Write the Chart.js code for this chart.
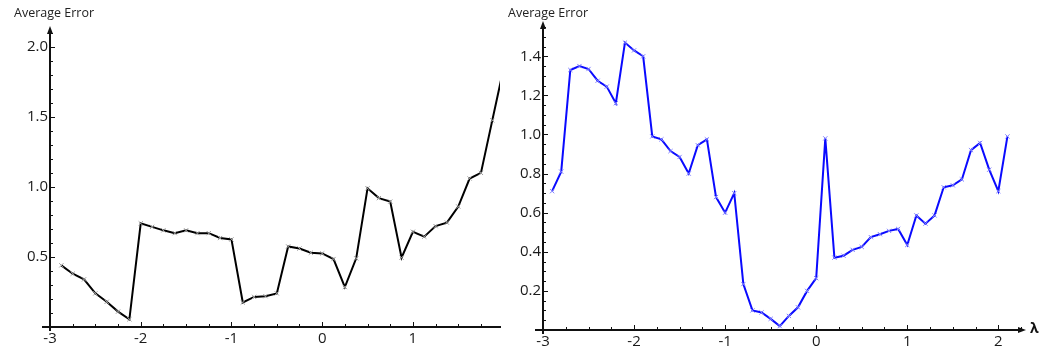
<!DOCTYPE html>
<html>
<head>
<meta charset="utf-8">
<script src="https://cdn.jsdelivr.net/npm/chart.js@4.4.1/dist/chart.umd.min.js"></script>
<style>
  html, body { margin: 0; padding: 0; background: #fff; }
  #wrap { position: relative; width: 1041px; height: 349px; }
  canvas { position: absolute; top: 0; }
  #chartLeft { left: 0; }
  #chartRight { left: 505px; }
</style>
</head>
<body>
<div id="wrap">
  <canvas id="chartLeft" width="505" height="349"></canvas>
  <canvas id="chartRight" width="536" height="349"></canvas>
</div>
<script>
const yTitle = "Average Error";
const xTitle = "λ";

// left panel, black curve
const lambdaLeft = [-2.875, -2.75, -2.625, -2.5, -2.375, -2.25, -2.125, -2.0,
  -1.875, -1.75, -1.625, -1.5, -1.375, -1.25, -1.125, -1.0,
  -0.875, -0.75, -0.625, -0.5, -0.375, -0.25, -0.125, 0,
  0.125, 0.25, 0.375, 0.5, 0.625, 0.75, 0.875, 1.0,
  1.125, 1.25, 1.375, 1.5, 1.625, 1.75, 1.875, 2.0];
const errorLeft = [0.44, 0.38, 0.34, 0.24, 0.18, 0.11, 0.055, 0.74,
  0.715, 0.69, 0.67, 0.69, 0.67, 0.67, 0.635, 0.625,
  0.175, 0.215, 0.22, 0.24, 0.575, 0.56, 0.53, 0.525,
  0.485, 0.285, 0.49, 0.99, 0.92, 0.895, 0.495, 0.68,
  0.645, 0.72, 0.745, 0.86, 1.06, 1.10, 1.475, 1.85];
const xTicksLeft = [-3, -2, -1, 0, 1];
const yTicksLeft = [0.5, 1.0, 1.5, 2.0];

// right panel, blue curve
const lambdaRight = [-2.9, -2.8, -2.7, -2.6, -2.5, -2.4, -2.3, -2.2, -2.1, -2.0,
  -1.9, -1.8, -1.7, -1.6, -1.5, -1.4, -1.3, -1.2, -1.1, -1.0,
  -0.9, -0.8, -0.7, -0.6, -0.5, -0.4, -0.3, -0.2, -0.1, 0.0,
  0.1, 0.2, 0.3, 0.4, 0.5, 0.6, 0.7, 0.8, 0.9, 1.0,
  1.1, 1.2, 1.3, 1.4, 1.5, 1.6, 1.7, 1.8, 1.9, 2.0, 2.1];
const errorRight = [0.71, 0.81, 1.33, 1.35, 1.335, 1.275, 1.245, 1.16, 1.47, 1.43,
  1.40, 0.99, 0.975, 0.915, 0.885, 0.80, 0.945, 0.975, 0.68, 0.60,
  0.70, 0.235, 0.10, 0.09, 0.057, 0.02, 0.072, 0.116, 0.20, 0.265,
  0.98, 0.37, 0.38, 0.41, 0.425, 0.475, 0.49, 0.507, 0.517, 0.435,
  0.586, 0.544, 0.586, 0.73, 0.74, 0.77, 0.92, 0.957, 0.82, 0.71, 0.99];
const xTicksRight = [-3, -2, -1, 0, 1, 2];
const yTicksRight = [0.2, 0.4, 0.6, 0.8, 1.0, 1.2, 1.4];

const FONT = "'Open Sans', 'DejaVu Sans', sans-serif";
const AXIS = "#111";

// minor ticks, arrow heads, axis title and λ label
const axisDecor = {
  id: 'axisDecor',
  afterDraw(chart, args, o) {
    const {ctx, chartArea: a, scales: {x, y}} = chart;
    ctx.save();
    ctx.strokeStyle = AXIS;
    ctx.fillStyle = AXIS;

    // small overhang of the axes past the origin
    ctx.lineWidth = 2;
    ctx.beginPath();
    ctx.moveTo(a.left - 8, a.bottom); ctx.lineTo(a.left, a.bottom);
    ctx.moveTo(a.left, a.bottom); ctx.lineTo(a.left, a.bottom + 4);
    ctx.stroke();
    ctx.lineWidth = 1;

    // tick marks pointing into the plot
    ctx.beginPath();
    const nx = Math.round((x.max - x.min) / o.xMinor);
    const x0 = Math.ceil(x.min / o.xMinor) * o.xMinor;
    for (let i = 0; i <= nx; i++) {
      const v = x0 + i * o.xMinor;
      if (v > x.max) break;
      const px = Math.round(x.getPixelForValue(v)) + 0.5;
      const major = Math.abs(v - Math.round(v)) < 1e-6;
      ctx.moveTo(px, a.bottom);
      ctx.lineTo(px, a.bottom - (major ? 5 : 3));
    }
    const ny = Math.round((y.max - y.min) / o.yMinor);
    for (let i = 1; i <= ny; i++) {
      const v = y.min + i * o.yMinor;
      if (v > y.max) break;
      const py = Math.round(y.getPixelForValue(v)) + 0.5;
      const major = Math.abs(v / o.yMajor - Math.round(v / o.yMajor)) < 1e-6;
      ctx.moveTo(a.left, py);
      ctx.lineTo(a.left + (major ? 5 : 3), py);
    }
    ctx.stroke();

    // arrow on the y axis
    ctx.beginPath();
    ctx.moveTo(a.left, a.top - 4);
    ctx.lineTo(a.left - 3, a.top + 4);
    ctx.lineTo(a.left + 3, a.top + 4);
    ctx.closePath();
    ctx.fill();

    if (o.xArrow) {
      ctx.beginPath();
      ctx.moveTo(a.right + 4, a.bottom);
      ctx.lineTo(a.right - 4, a.bottom - 3);
      ctx.lineTo(a.right - 4, a.bottom + 3);
      ctx.closePath();
      ctx.fill();
      ctx.font = "bold 14px " + FONT;
      ctx.fillStyle = "#111";
      ctx.textAlign = 'left';
      ctx.textBaseline = 'middle';
      ctx.fillText(xTitle, a.right + 8, a.bottom - 1);
    }

    ctx.font = "12.5px " + FONT;
    ctx.fillStyle = "#222";
    ctx.textAlign = 'left';
    ctx.textBaseline = 'middle';
    ctx.fillText(yTitle, o.titleX, 13);
    ctx.restore();
  }
};

function makeChart(id, xs, ys, cfg) {
  return new Chart(document.getElementById(id), {
    type: 'line',
    data: {
      datasets: [{
        data: xs.map((v, i) => ({x: v, y: ys[i]})),
        borderColor: cfg.line,
        borderWidth: 2,
        tension: 0,
        pointStyle: 'crossRot',
        pointRadius: 3,
        pointBorderWidth: 1,
        pointBorderColor: cfg.marker,
      }]
    },
    options: {
      responsive: false,
      animation: false,
      devicePixelRatio: 1,
      layout: { padding: cfg.padding },
      plugins: {
        legend: { display: false },
        tooltip: { enabled: false },
        axisDecor: cfg.decor,
      },
      scales: {
        x: {
          type: 'linear',
          min: cfg.xMin, max: cfg.xMax,
          afterBuildTicks: s => { s.ticks = cfg.xTicks.map(v => ({value: v})); },
          afterFit: s => { s.height = cfg.xAxisH; },
          grid: { display: false, drawTicks: false },
          border: { display: true, color: AXIS, width: 2 },
          ticks: { padding: 3, color: '#1a1a1a', font: { family: FONT, size: 15 } },
        },
        y: {
          type: 'linear',
          min: 0, max: cfg.yMax,
          afterBuildTicks: s => { s.ticks = cfg.yTicks.map(v => ({value: v})); },
          afterFit: s => { s.width = cfg.yAxisW; },
          grid: { display: false, drawTicks: false },
          border: { display: true, color: AXIS, width: 2 },
          ticks: {
            padding: 2, color: '#1a1a1a', font: { family: FONT, size: 15 },
            callback: v => v.toFixed(1),
          },
        }
      }
    },
    plugins: [axisDecor]
  });
}

makeChart('chartLeft', lambdaLeft, errorLeft, {
  line: '#000', marker: '#9a9a9a',
  padding: { top: 30, right: 1, left: 0, bottom: 0 },
  xMin: -3, xMax: 1.96, yMax: 2.12,
  xTicks: xTicksLeft, yTicks: yTicksLeft,
  xAxisH: 22, yAxisW: 50,
  decor: { xMinor: 0.25, yMinor: 0.1, yMajor: 0.5, xArrow: false, titleX: 14 },
});

makeChart('chartRight', lambdaRight, errorRight, {
  line: '#0a0aff', marker: '#7f7fff',
  padding: { top: 25, right: 19, left: 0, bottom: 0 },
  xMin: -3, xMax: 2.26, yMax: 1.56,
  xTicks: xTicksRight, yTicks: yTicksRight,
  xAxisH: 19, yAxisW: 38,
  decor: { xMinor: 0.25, yMinor: 0.05, yMajor: 0.2, xArrow: true, titleX: 3 },
});
</script>
</body>
</html>
